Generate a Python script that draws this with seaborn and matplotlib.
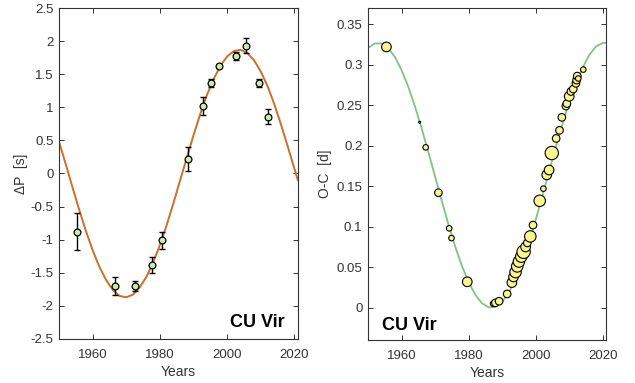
import numpy as np
import pandas as pd
import matplotlib
matplotlib.use("Agg")
import matplotlib.pyplot as plt
from matplotlib.ticker import FuncFormatter
import seaborn as sns

# --- period change (left panel) ---
dp_year = [1955.3, 1966.5, 1972.6, 1977.6, 1980.7, 1988.4, 1992.8,
           1995.1, 1997.6, 2002.7, 2005.6, 2009.6, 2012.1]
dp_value = [-0.88, -1.70, -1.70, -1.38, -1.01, 0.22, 1.02,
            1.37, 1.63, 1.78, 1.93, 1.37, 0.86]
dp_err = [0.28, 0.14, 0.08, 0.12, 0.13, 0.18, 0.14,
          0.06, 0.03, 0.06, 0.11, 0.06, 0.11]

# fitted curves
fit_year = [1950, 1952, 1954, 1956, 1958, 1960, 1962, 1964, 1966, 1968,
            1970, 1972, 1974, 1976, 1978, 1980, 1982, 1984, 1986, 1988,
            1990, 1992, 1994, 1996, 1998, 2000, 2002, 2004, 2006, 2008,
            2010, 2012, 2014, 2016, 2018, 2020, 2021]
dp_fit = [0.48, 0.14, -0.21, -0.55, -0.87, -1.16, -1.41, -1.61, -1.76, -1.85,
          -1.87, -1.83, -1.72, -1.56, -1.34, -1.08, -0.78, -0.45, -0.10, 0.24,
          0.58, 0.90, 1.19, 1.43, 1.63, 1.77, 1.85, 1.87, 1.82, 1.71,
          1.54, 1.32, 1.05, 0.74, 0.41, 0.07, -0.10]
oc_fit = [0.3207, 0.3263, 0.3263, 0.3207, 0.3097, 0.2936, 0.2730, 0.2486, 0.2215, 0.1922,
          0.1620, 0.1318, 0.1027, 0.0756, 0.0517, 0.0315, 0.0160, 0.0055, 0.0004, 0.0009,
          0.0071, 0.0186, 0.0350, 0.0560, 0.0807, 0.1085, 0.1382, 0.1681, 0.1982, 0.2271,
          0.2538, 0.2772, 0.2964, 0.3122, 0.3226, 0.3269, 0.3270]

# --- O-C (right panel) ---
oc_year = [1955.5, 1965.4, 1967.2, 1971.0, 1974.2, 1974.9, 1979.6, 1987.3,
           1988.0, 1989.1, 1991.5, 1992.9, 1993.4, 1994.0, 1994.5, 1995.0,
           1995.7, 1996.4, 1997.0, 1997.5, 1998.4, 1999.2, 2001.2, 2002.3,
           2003.3, 2004.0, 2004.8, 2006.1, 2007.1, 2007.8, 2009.0, 2009.3,
           2010.0, 2010.5, 2011.2, 2012.0, 2012.2, 2012.4, 2012.7, 2014.2]
oc_value = [0.322, 0.229, 0.198, 0.142, 0.098, 0.086, 0.032, 0.005,
            0.006, 0.008, 0.017, 0.031, 0.038, 0.044, 0.051, 0.057,
            0.063, 0.069, 0.075, 0.080, 0.088, 0.102, 0.132, 0.147,
            0.164, 0.170, 0.191, 0.209, 0.219, 0.235, 0.249, 0.252,
            0.261, 0.267, 0.270, 0.277, 0.281, 0.286, 0.283, 0.294]
oc_weight = [4, 1, 2, 3, 2, 2, 4, 2,
             3, 3, 3, 4, 4, 5, 5, 5,
             5, 6, 4, 3, 5, 3, 5, 2,
             4, 4, 6, 3, 3, 3, 3, 3,
             4, 3, 3, 3, 3, 3, 2, 2]

fit = pd.DataFrame({"year": fit_year, "dp": dp_fit, "oc": oc_fit})
dp = pd.DataFrame({"year": dp_year, "dp": dp_value, "err": dp_err})
oc = pd.DataFrame({"year": oc_year, "oc": oc_value, "w": oc_weight})

sns.set_style("ticks")
plt.rcParams["font.family"] = ["Liberation Sans", "DejaVu Sans"]
txt = "#333333"

fig = plt.figure(figsize=(6.35, 3.83), dpi=100)
ax1 = fig.add_axes([0.093, 0.115, 0.376, 0.864])
ax2 = fig.add_axes([0.5795, 0.112, 0.375, 0.867])

fmt = FuncFormatter(lambda v, p: ("%g" % round(v, 3)).replace("\u2212", "-"))

# left panel
sns.lineplot(data=fit, x="year", y="dp", ax=ax1, color="#C8702D", lw=1.4, zorder=2)
ax1.errorbar(dp["year"], dp["dp"], yerr=dp["err"], fmt="none", ecolor="black",
             elinewidth=1.0, capsize=2.5, capthick=1.0, zorder=3)
sns.scatterplot(data=dp, x="year", y="dp", ax=ax1, color="#CDEBA8", edgecolor="black",
                linewidth=0.9, s=24, zorder=4)
ax1.set_xlim(1950, 2021)
ax1.set_ylim(-2.5, 2.5)
ax1.set_yticks(np.arange(-2.5, 2.51, 0.5))
ax1.set_xticks([1960, 1980, 2000, 2020])
ax1.set_ylabel("ΔP  [s]", fontsize=10, color=txt, labelpad=2)
ax1.text(0.946, 0.036, "CU Vir", transform=ax1.transAxes, ha="right", va="baseline",
         fontsize=13, fontweight="bold", color="black")

# right panel
sns.lineplot(data=fit, x="year", y="oc", ax=ax2, color="#82C282", lw=1.3, zorder=2)
sns.scatterplot(data=oc, x="year", y="oc", size="w", ax=ax2,
                sizes={1: 2, 2: 16, 3: 30, 4: 48, 5: 68, 6: 92}, legend=False,
                color="#FAF78E", edgecolor="black", linewidth=0.8, zorder=3)
ax2.set_xlim(1950, 2021)
ax2.set_ylim(-0.04, 0.37)
ax2.set_yticks(np.arange(0, 0.351, 0.05))
ax2.set_xticks([1960, 1980, 2000, 2020])
ax2.set_ylabel("O-C  [d]", fontsize=10, color=txt, labelpad=3)
ax2.text(0.058, 0.03, "CU Vir", transform=ax2.transAxes, ha="left", va="baseline",
         fontsize=13, fontweight="bold", color="black")

for ax in (ax1, ax2):
    ax.set_xlabel("Years", fontsize=10, color=txt, labelpad=3)
    ax.yaxis.set_major_formatter(fmt)
    ax.tick_params(direction="in", top=True, right=True, length=3.5, width=0.7,
                   labelsize=9.5, colors=txt)
    ax.tick_params(axis="x", pad=7)
    ax.tick_params(axis="y", pad=4)
    for sp in ax.spines.values():
        sp.set_visible(True)
        sp.set_color(txt)
        sp.set_linewidth(0.8)

fig.savefig("out.png", dpi=100)
